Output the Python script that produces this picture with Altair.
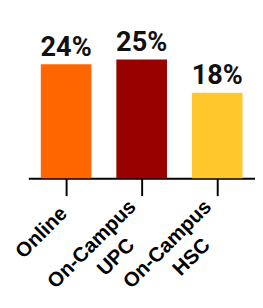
import altair as alt
import pandas as pd

categories = ["Online", "On-Campus UPC", "On-Campus HSC"]
values = [0.24, 0.25, 0.18]
colors = ["#FF6600", "#990000", "#FFC72C"]

df = pd.DataFrame({"category": categories, "value": values})

two_line = "indexof(datum.value, ' ') > 0"
NB = "\u00a0" * 5 + "\u2060"
label_expr = (
    "indexof(datum.label, ' ') > 0 ? "
    f"[split(datum.label, ' ')[0], split(datum.label, ' ')[1] + '{NB}'] : datum.label"
)

x = alt.X(
    "category:N",
    sort=categories,
    scale=alt.Scale(paddingInner=0.33, paddingOuter=0.165),
    axis=alt.Axis(
        title=None,
        labelAngle=-45,
        labelAlign="right",
        labelBaseline="middle",
        labelFont="Liberation Sans",
        labelFontWeight="bold",
        labelFontSize=21,
        labelColor="black",
        labelLineHeight=27,
        labelPadding={"condition": {"test": two_line, "value": 8}, "value": 15},
        labelOffset={"condition": {"test": two_line, "value": -9}, "value": -2},
        labelOverlap=False,
        labelExpr=label_expr,
        tickSize=18,
        tickWidth=2,
        tickColor="black",
        domainColor="black",
        domainWidth=2,
    ),
)
y = alt.Y("value:Q", scale=alt.Scale(domain=[0, 0.3]), axis=None)

base = alt.Chart(df).encode(x=x, y=y)

bars = base.mark_bar().encode(
    color=alt.Color("category:N", scale=alt.Scale(domain=categories, range=colors), legend=None)
)
text = base.mark_text(
    dy=-9, baseline="alphabetic", font="Roboto", fontWeight="bold", fontSize=28, color="#111111"
).encode(text=alt.Text("value:Q", format=".0%"))

chart = (
    (bars + text)
    .properties(
        width=234,
        height=147,
        autosize=alt.AutoSizeParams(type="none"),
        padding={"left": 21, "top": 24, "right": 0, "bottom": 120},
    )
    .configure_view(stroke=None)
)

chart.save("out.html", embed_options={"renderer": "svg", "actions": False})
